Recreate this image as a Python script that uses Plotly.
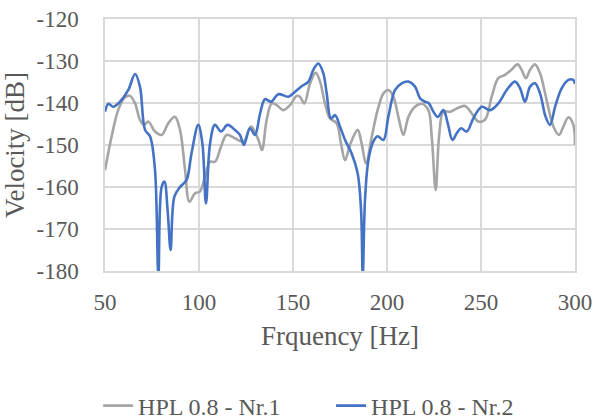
import plotly.graph_objects as go

# Series 1: HPL 0.8 - Nr.1 (gray)
freq_nr1 = [50, 53.5, 57, 60.5, 63.3, 66, 68.6, 70.9, 73, 76.6,
            80.1, 83.7, 87.2, 89.9, 92.6, 94.9, 97.9, 100.5, 103.2, 105.9,
            108.5, 111.7, 114.7, 119.1, 123.6, 127.7, 131.6, 133.5, 136, 138.7,
            141.3, 144.9, 148.4, 152, 153.7, 156, 159.1, 162.1, 164.4, 167,
            169.7, 173.2, 175.5, 177.7, 180.3, 184.4, 186.5, 188.8, 191.9, 195,
            198.1, 200.7, 203.4, 206.4, 208.7, 211.4, 214.9, 218.5, 222, 223.8,
            225.9, 227.7, 230, 233.5, 237.1, 241.5, 245.1, 248.6, 252.1, 255.7,
            259.2, 262.8, 266.3, 269.5, 271.6, 273.9, 276.1, 278.7, 281.4, 284.9,
            288.5, 291.5, 293.8, 296.5, 299.1, 300]
vel_nr1 = [-156, -148, -141.7, -138.7, -138.3, -140.1, -144, -145.2, -144.4, -146.8,
           -147.6, -144.8, -143.3, -146.4, -156, -163.5, -161.5, -161.1, -157.5, -154,
           -154, -150.4, -147.6, -148.4, -149.2, -145.6, -148.8, -151.2, -144, -140.1,
           -140.5, -141.7, -140.5, -138.3, -138.5, -140.1, -135.3, -132.8, -134.9, -140.1,
           -143.7, -144.8, -149.6, -153.6, -150, -146.4, -149.6, -154.4, -148, -141.7,
           -137.7, -136.9, -138.5, -144, -147.6, -143.3, -140.9, -140.2, -141.7, -148,
           -160.7, -148, -142.1, -142.1, -141.3, -140.7, -142.5, -144.4, -144, -138.5,
           -134.1, -133.3, -132, -130.8, -132.1, -134.1, -132.1, -130.8, -132.9, -139.3,
           -145.6, -147.6, -145.6, -143.4, -145.2, -150]

# Series 2: HPL 0.8 - Nr.2 (blue)
freq_nr2 = [50, 51.8, 54.4, 58, 62.4, 66, 68.6, 71.3, 74, 76.6,
            78.4, 80.1, 81.6, 83.3, 84.9, 86.9, 89.9, 93.4, 96, 99.6,
            101.8, 103.7, 105.9, 108.5, 111.7, 115.2, 119.1, 121.8, 123.9, 127.1,
            129.8, 132.5, 135.1, 138.3, 142.2, 147.5, 151.1, 154.6, 158.2, 160.8,
            163.5, 166.1, 167.9, 170.2, 172.4, 175, 177.7, 181.2, 184.4, 186.2,
            187.1, 188.3, 190.1, 192.7, 195, 198.1, 200.7, 204.3, 207.8, 211.4,
            214.9, 217.6, 220.2, 222.3, 224.7, 227, 230, 232.3, 234.8, 237.1,
            239.4, 242.4, 245.9, 250.4, 254.8, 259.2, 263.7, 268.1, 270.8, 273.4,
            276.1, 278.7, 281.4, 284.4, 286.7, 289.4, 292.9, 296.5, 299.1, 300]
vel_nr2 = [-142.1, -140.2, -140.9, -139.7, -136.9, -133.1, -136.1, -146.4, -148, -156,
           -181, -160, -158.7, -165.5, -175, -162.3, -160, -158.3, -152, -145.2,
           -149.6, -163.9, -149.6, -145.2, -146.8, -145.2, -146.4, -147.6, -150, -146,
           -147.6, -142.5, -139.1, -139.7, -137.9, -138.5, -137.3, -136, -134.9, -132.1,
           -130.6, -132.9, -137.7, -143.7, -142.9, -145.6, -148.8, -152, -156.7, -165.5,
           -181, -163.1, -153.6, -149.2, -147.9, -148.8, -143.3, -136.9, -135.3, -134.9,
           -136.1, -138.9, -139.7, -140.1, -142.1, -143.3, -141.7, -144.8, -148.8, -147.2,
           -146, -146.8, -143.7, -140.9, -141.7, -140.1, -136.9, -134.9, -136.5, -139.7,
           -136.1, -135.3, -137.7, -143.3, -145.2, -140.9, -136.5, -134.5, -134.5, -135.5]

series_names = ["HPL 0.8 - Nr.1", "HPL 0.8 - Nr.2"]
x_ticks = [50, 100, 150, 200, 250, 300]
y_ticks = [-180, -170, -160, -150, -140, -130, -120]

FONT = "Liberation Serif, Times New Roman, serif"
TXT = "#595959"
GRID = "#d9d9d9"

fig = go.Figure()
fig.add_trace(go.Scatter(x=freq_nr1, y=vel_nr1, mode="lines", name=series_names[0],
                         line=dict(color="#a5a5a5", width=2.6, shape="spline", smoothing=1.0)))
fig.add_trace(go.Scatter(x=freq_nr2, y=vel_nr2, mode="lines", name=series_names[1],
                         line=dict(color="#4472c4", width=2.6, shape="spline", smoothing=1.0)))

fig.update_layout(
    width=595, height=419,
    margin=dict(l=105, r=20, t=19, b=148, autoexpand=False),
    paper_bgcolor="white", plot_bgcolor="white",
    font=dict(family=FONT, size=23, color=TXT),
    showlegend=True,
    legend=dict(orientation="h", xref="paper", yref="paper",
                x=0.481, xanchor="center", y=-0.536, yanchor="middle",
                entrywidth=188, entrywidthmode="pixels",
                font=dict(family=FONT, size=24, color=TXT),
                bgcolor="rgba(0,0,0,0)"),
)
fig.update_xaxes(range=[50, 300], tickvals=x_ticks, ticktext=[str(v) for v in x_ticks],
                 showgrid=True, gridcolor=GRID, gridwidth=1.5,
                 showline=True, linecolor=GRID, linewidth=1.5, mirror=True,
                 zeroline=False, ticks="", ticklabelstandoff=10, automargin=False,
                 title=dict(text="Frquency [Hz]", font=dict(family=FONT, size=27, color=TXT), standoff=12),
                 tickfont=dict(family=FONT, size=23, color=TXT))
fig.update_yaxes(range=[-180, -120], tickvals=y_ticks, ticktext=[str(v) for v in y_ticks],
                 showgrid=True, gridcolor=GRID, gridwidth=1.5,
                 showline=True, linecolor=GRID, linewidth=1.5, mirror=True,
                 zeroline=False, ticks="", ticklabelstandoff=20, automargin=False,
                 title=dict(text="Velocity [dB]", font=dict(family=FONT, size=27, color=TXT), standoff=8),
                 tickfont=dict(family=FONT, size=23, color=TXT))

fig.write_html("out.html", config={"displayModeBar": False},
               post_script="document.body.style.margin='0';")
